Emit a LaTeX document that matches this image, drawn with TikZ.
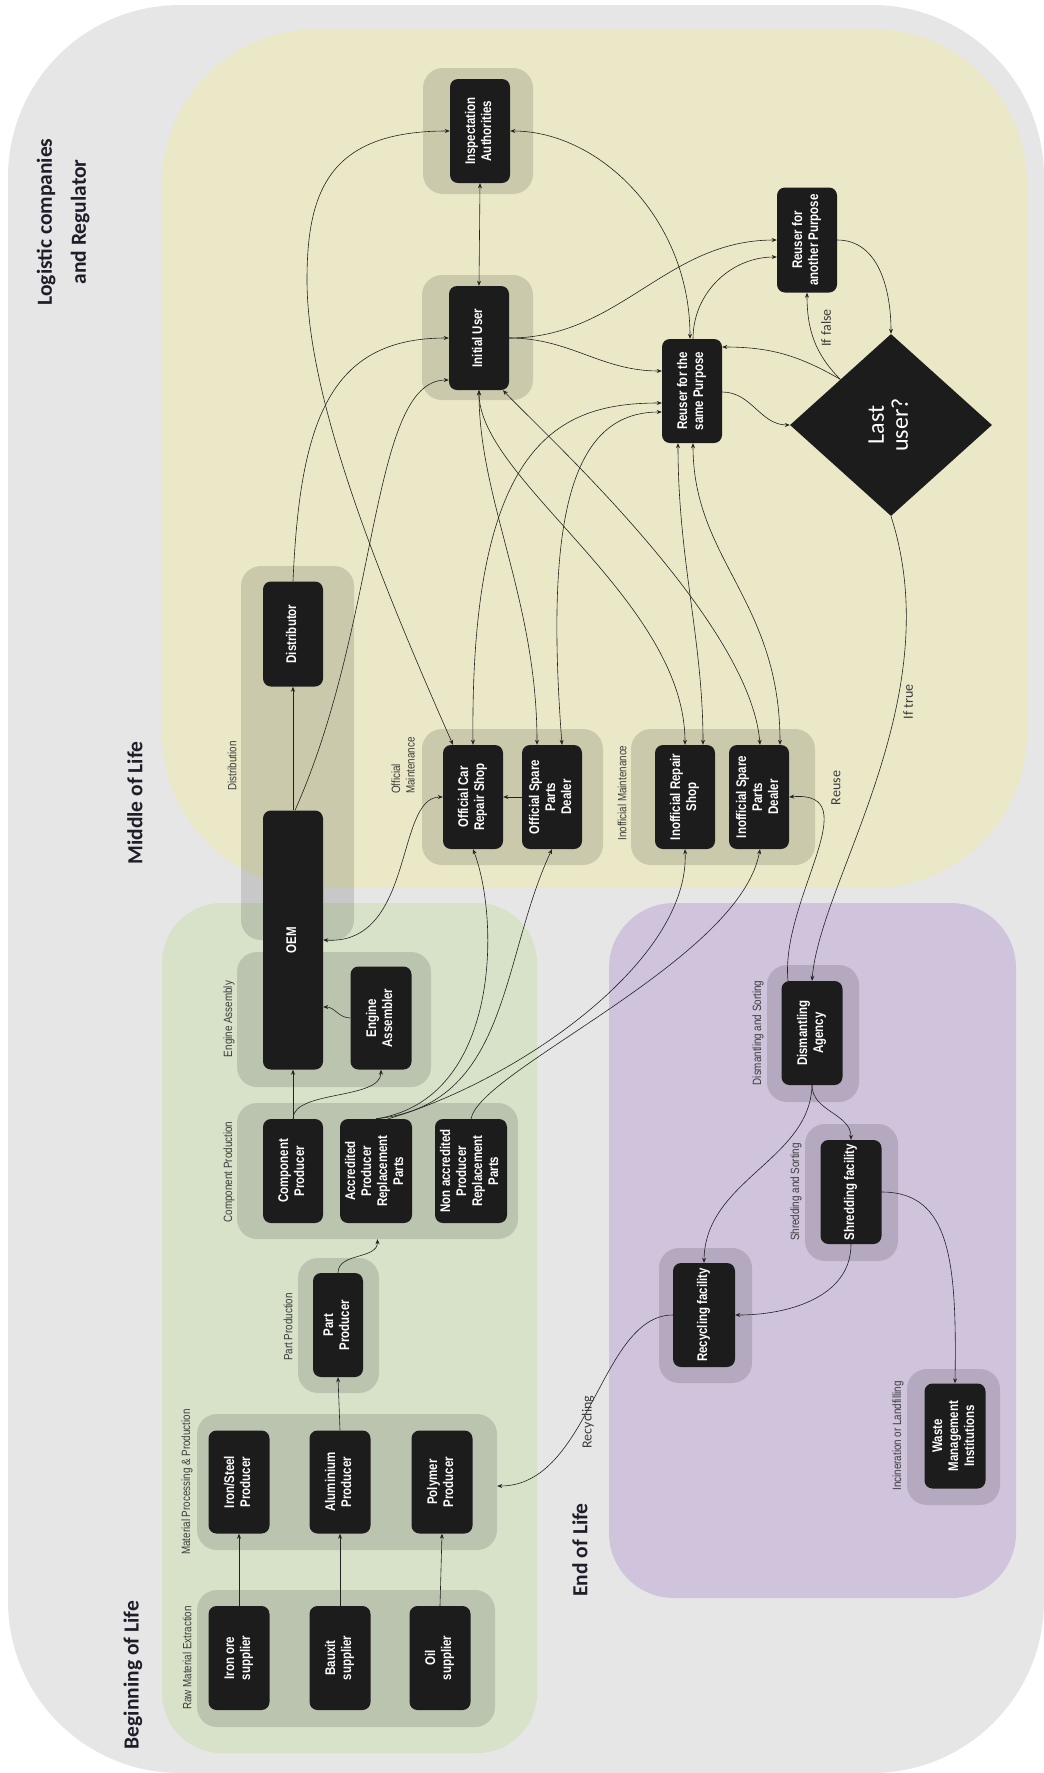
\documentclass[tikz,border=0pt]{standalone}
\usepackage{fontspec}
\usepackage{graphicx}
\setmainfont{Carlito}
\newfontfamily\narrowfont[FakeStretch=0.82]{Liberation Sans}
\usetikzlibrary{arrows.meta,shapes.geometric,calc}
\definecolor{outerc}{HTML}{E6E6E6}
\definecolor{yelc}{HTML}{EAE8C6}
\definecolor{grnc}{HTML}{D7E2C8}
\definecolor{purc}{HTML}{D0C3DC}
\definecolor{boxc}{HTML}{1C1C1C}
\definecolor{linec}{HTML}{222222}
\definecolor{labc}{HTML}{3C3C3C}
\definecolor{headc}{HTML}{1E1E2A}
\newcommand\rt[1]{\rotatebox{90}{\begin{tabular}{@{}c@{}}#1\end{tabular}}}
\newcommand\grpnode[5]{\node[grp,minimum width=#4pt,minimum height=#5pt] (#1) at (#2,-#3) {};}
\newcommand\boxnode[6]{\node[box,minimum width=#4pt,minimum height=#5pt] (#1) at (#2,-#3) {\rt{#6}};}
\newcommand\glab[4]{\node[glabel] (#1) at (#2,-#3) {\rotatebox{90}{#4}};}
\tikzset{
 box/.style={rectangle, rounded corners=8pt, fill=boxc, text=white, inner sep=0pt, font=\narrowfont\bfseries\fontsize{14}{16}\selectfont},
 grp/.style={rectangle, rounded corners=20pt, fill=black, fill opacity=0.13, inner sep=0pt},
 glabel/.style={inner sep=0pt, text=labc, font=\narrowfont\fontsize{12}{14.5}\selectfont},
 elabel/.style={inner sep=0pt, text=labc, font=\fontsize{14}{16}\selectfont},
 head/.style={inner sep=0pt, text=headc, font=\bfseries\fontsize{21.5}{34}\selectfont},
 arr/.style={-{Stealth[length=5pt,width=4pt]}, line width=0.6pt, draw=linec},
 arrb/.style={{Stealth[length=5pt,width=4pt]}-{Stealth[length=5pt,width=4pt]}, line width=0.6pt, draw=linec},
}
\begin{document}
\begin{tikzpicture}[x=1pt,y=1pt]
\useasboundingbox (0,0) rectangle (1044,-1773);
% regions
\fill[outerc, rounded corners=172pt] (8,-5) rectangle (1044,-1773);
\fill[yelc, rounded corners=155pt] (162,-29) rectangle (1027,-888);
\fill[grnc, rounded corners=60pt] (162,-903) rectangle (537,-1753);
\fill[purc, rounded corners=65pt] (609,-903) rectangle (1016,-1598);
% groups
\grpnode{ginsp}{478}{131}{110}{126}
\grpnode{giuser}{477.5}{337.5}{111}{125}
\grpnode{gdist}{297.5}{753}{113}{374}
\grpnode{geng}{334}{1019.5}{194}{135}
\grpnode{gcomp}{377.5}{1171}{281}{136}
\grpnode{gpart}{338.5}{1325.5}{81}{135}
\grpnode{gmat}{347}{1482}{300}{136}
\grpnode{graw}{346}{1658.5}{298}{137}
\grpnode{goff}{512.5}{797}{181}{136}
\grpnode{ginoff}{723}{797}{184}{136}
\grpnode{gdism}{813}{1033.5}{92}{137}
\grpnode{gshred}{851.5}{1192.5}{93}{137}
\grpnode{grecyc}{705.5}{1315.5}{93}{135}
\grpnode{gwaste}{953.5}{1437}{93}{136}
% boxes
\boxnode{insp}{480}{131}{60}{104}{Inspectation\\Authorities}
\boxnode{iuser}{479}{338}{60}{104}{Initial User}
\boxnode{rsame}{692}{391}{60}{104}{Reuser for the\\same Purpose}
\boxnode{ranother}{807}{240}{60}{105}{Reuser for\\another Purpose}
\boxnode{distr}{293}{634}{60}{105}{Distributor}
\boxnode{oem}{293}{940}{60}{259}{OEM}
\boxnode{engine}{381}{1018}{61}{103}{Engine\\Assembler}
\boxnode{compprod}{293}{1171}{60}{104}{Component\\Producer}
\boxnode{accred}{376}{1171}{72}{104}{Accredited\\Producer\\Replacement\\Parts}
\boxnode{nonaccred}{471}{1171}{72}{104}{Non accredited\\Producer\\Replacement\\Parts}
\boxnode{part}{338}{1325}{50}{104}{Part\\Producer}
\boxnode{iron}{239}{1482}{61}{103}{Iron/Steel\\Producer}
\boxnode{alu}{340}{1482}{61}{103}{Aluminium\\Producer}
\boxnode{poly}{442}{1482}{61}{103}{Polymer\\Producer}
\boxnode{ironore}{239}{1658}{61}{104}{Iron ore\\supplier}
\boxnode{bauxit}{340}{1658}{61}{104}{Bauxit\\supplier}
\boxnode{oil}{440}{1658}{61}{104}{Oil\\supplier}
\boxnode{ocar}{473}{797}{60}{104}{Official Car\\Repair Shop}
\boxnode{ospare}{552}{797}{60}{104}{Official Spare\\Parts\\Dealer}
\boxnode{irepair}{685}{797}{60}{104}{Inofficial Repair\\Shop}
\boxnode{ispare}{759}{797}{60}{104}{Inofficial Spare\\Parts\\Dealer}
\boxnode{dism}{812}{1033}{61}{104}{Dismantling\\Agency}
\boxnode{shred}{851}{1192}{61}{104}{Shredding facility}
\boxnode{recyc}{704}{1315}{62}{104}{Recycling facility}
\boxnode{waste}{955}{1436}{61}{105}{Waste\\Management\\Institutions}
\node[diamond, fill=boxc, text=white, inner sep=0pt, minimum width=202pt, minimum height=182pt, font=\fontsize{24}{24}\selectfont] (last) at (891,-425) {\rt{Last\\user?}};
\coordinate (lastnw) at ($(last.west)!0.5!(last.north)$);
% edges
\draw[arr] (ironore.north) -- (iron.south);
\draw[arr] (bauxit.north) -- (alu.south);
\draw[arr] (oil.north) -- (poly.south);
\draw[arr] (alu.north) -- (part.south);
\draw[arr] (part.north) to[out=90,in=270] (gcomp.south);
\draw[arr] (compprod.north) -- (oem.south);
\draw[arr] (compprod.north) .. controls (293,-1090) and (381,-1100) .. (engine.south);
\draw[arr] (engine.west) to[out=180,in=0] ([yshift=-67pt]oem.east);
\draw[arr] (oem.north) -- (distr.south);
\draw[arr] (distr.north) .. controls (300,-420) and (330,-338) .. (iuser.west);
\draw[arr] ([xshift=2pt]oem.north) .. controls (380,-620) and (370,-380) .. ([yshift=-42pt]iuser.west);
\draw[arrb] (insp.west) .. controls (330,-131) and (307,-190) .. (307,-280) .. controls (307,-400) and (380,-580) .. ([xshift=-20pt]ocar.north);
\draw[arrb] (oem.east) .. controls (415,-945) and (395,-797) .. (ocar.west);
\draw[arr] (ospare.west) -- (ocar.east);
\draw[arrb] (iuser.north) -- (insp.south);
\draw[arrb] (insp.east) .. controls (600,-131) and (690,-220) .. ([xshift=-2pt]rsame.north);
\draw[arr] (iuser.east) to[out=0,in=180] (ranother.west);
\draw[arr] (iuser.east) to[out=0,in=180] ([yshift=20pt]rsame.west);
\draw[arr] ([xshift=1pt]rsame.north) to[out=90,in=180] ([yshift=-17pt]ranother.west);
\draw[arr] (ranother.east) to[out=0,in=90] (last.north);
\draw[arr] (lastnw) to[out=135,in=270] (ranother.south);
\draw[arr] (lastnw) to[out=150,in=0] ([yshift=44pt]rsame.east);
\draw[arr] ([yshift=-1pt]rsame.east) to[out=0,in=180] (last.west);
\draw[arrb] ([yshift=-12pt]rsame.west) .. controls (560,-403) and (470,-440) .. (ocar.north);
\draw[arrb] ([yshift=-21pt]rsame.west) .. controls (570,-412) and (545,-520) .. ([xshift=10pt]ospare.north);
\draw[arrb] (iuser.south) .. controls (479,-500) and (537,-600) .. ([xshift=-15pt]ospare.north);
\draw[arrb] (iuser.south) .. controls (479,-480) and (685,-600) .. (irepair.north);
\draw[arrb] ([xshift=24pt]iuser.south) .. controls (540,-430) and (750,-620) .. ([xshift=1pt]ispare.north);
\draw[arrb] ([xshift=-14pt]rsame.south) .. controls (678,-560) and (703,-640) .. ([xshift=18pt]irepair.north);
\draw[arrb] ([xshift=1pt]rsame.south) .. controls (693,-560) and (780,-600) .. ([xshift=21pt]ispare.north);
\draw[arr] (accred.north) .. controls (500,-1100) and (500,-920) .. (ocar.south);
\draw[arr] (accred.north) .. controls (510,-1105) and (500,-960) .. (ospare.south);
\draw[arr] ([xshift=12pt]accred.north) .. controls (520,-1080) and (690,-960) .. (irepair.south);
\draw[arr] (nonaccred.north) .. controls (480,-1070) and (740,-960) .. ([xshift=1pt]ispare.south);
\draw[arr] ([xshift=-24pt]dism.north) .. controls (780,-900) and (870,-790) .. (ispare.east);
\draw[arr] (last.south) .. controls (950,-700) and (820,-880) .. (dism.north);
\draw[arr] (dism.south) to[out=270,in=90] (shred.north);
\draw[arr] (dism.south) .. controls (810,-1160) and (705,-1180) .. (recyc.north);
\draw[arr] (shred.south) to[out=270,in=0] (recyc.east);
\draw[arr] (shred.east) .. controls (950,-1192) and (957,-1260) .. (waste.north);
\draw[arr] (recyc.west) .. controls (600,-1315) and (590,-1486) .. ([yshift=-4pt]gmat.east);
% edge labels
\node[elabel] (lfalse) at (826,-328) {\rotatebox{90}{If false}};
\node[elabel] (ltrue) at (908,-702) {\rotatebox{90}{If true}};
\node[elabel] (lreuse) at (836,-788) {\rotatebox{90}{Reuse}};
\node[elabel] (lrecyc) at (588,-1422) {\rotatebox{90}{Recycling}};
% group labels
\glab{tdist}{232}{766}{Distribution}
\glab{teng}{229}{1019}{Engine Assembly}
\glab{tcomp}{229}{1172}{Component Production}
\glab{tpart}{288}{1327}{Part Production}
\glab{tmat}{187}{1482}{Material Processing \& Production}
\glab{traw}{187}{1658}{Raw Material Extraction}
\node[glabel, anchor=south] (toff) at (404.5,-794) {\rotatebox{90}{\begin{tabular}{@{}l@{}}Official\\Maintenance\end{tabular}}};
\glab{tinoff}{622}{793}{Inofficial Maintenance}
\glab{tdism}{758}{1033}{Dismantling and Sorting}
\glab{tshred}{796}{1192}{Shredding and Sorting}
\glab{twaste}{898}{1436}{Incineration or Landfilling}
% headings
\node[head] (hlog) at (62,-222) {\rt{Logistic companies\\and Regulator}};
\node[head] (hmid) at (135,-803) {\rotatebox{90}{Middle of Life}};
\node[head] (hbeg) at (133,-1675) {\rotatebox{90}{Beginning of Life}};
\node[head] (hend) at (580,-1550) {\rotatebox{90}{End of Life}};
\end{tikzpicture}
\end{document}
